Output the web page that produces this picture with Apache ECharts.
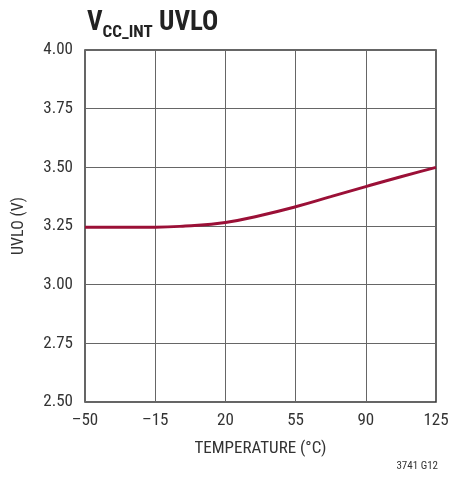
<!DOCTYPE html>
<html>
<head>
<meta charset="utf-8">
<script src="https://cdn.jsdelivr.net/npm/echarts@6/dist/echarts.min.js"></script>
<style>
  html, body { margin: 0; padding: 0; background: #fff; }
  #chart { width: 466px; height: 479px; }
</style>
</head>
<body>
<div id="chart"></div>
<script>
// temperature (°C) and UVLO threshold (V)
const temps = [-50, -32.5, -15, 0, 20, 37.5, 55, 72.5, 90, 107.5, 125];
const uvlo = [3.245, 3.245, 3.245, 3.25, 3.265, 3.295, 3.332, 3.375, 3.418, 3.46, 3.50];
const xTicks = [-50, -15, 20, 55, 90, 125];
const yTicks = [2.5, 2.75, 3.0, 3.25, 3.5, 3.75, 4.0];

const font = '"Liberation Sans Narrow", "Roboto Condensed", "Liberation Sans", sans-serif';

const myChart = echarts.init(document.getElementById('chart'));

const option = {
  animation: false,
  textStyle: { fontFamily: font },
  title: {
    text: '{v|V}{s|CC_INT}{v| UVLO}',
    left: 82,
    top: 5,
    textStyle: {
      rich: {
        v: { fontFamily: font, fontWeight: 'bold', fontSize: 27, color: '#222', verticalAlign: 'bottom' },
        s: { fontFamily: font, fontWeight: 'bold', fontSize: 17, color: '#222', verticalAlign: 'bottom', padding: [0, 0, -4, 0] }
      }
    }
  },
  graphic: [{
    type: 'text',
    right: 28,
    top: 461,
    style: { text: '3741 G12', font: '11px ' + font, fill: '#333' }
  }],
  grid: {
    left: 85, right: 30, top: 50, bottom: 77,
    show: true, borderColor: '#333', borderWidth: 1.5
  },
  xAxis: {
    type: 'value',
    min: -50,
    max: 125,
    interval: 35,
    name: 'TEMPERATURE (°C)',
    nameLocation: 'middle',
    nameGap: 38,
    nameTextStyle: { fontSize: 17, color: '#333', fontFamily: font },
    axisLine: { show: false },
    axisTick: { show: false },
    splitLine: { show: true, lineStyle: { color: '#666', width: 1 } },
    axisLabel: {
      fontSize: 17, color: '#333', margin: 10,
      formatter: v => xTicks.includes(v) ? String(v).replace('-', '\u2013') : ''
    }
  },
  yAxis: {
    type: 'value',
    min: 2.5,
    max: 4.0,
    interval: 0.25,
    name: 'UVLO (V)',
    nameLocation: 'middle',
    nameGap: 58,
    nameTextStyle: { fontSize: 16, color: '#333', fontFamily: font },
    axisLine: { show: false },
    axisTick: { show: false },
    splitLine: { show: true, lineStyle: { color: '#666', width: 1 } },
    axisLabel: {
      fontSize: 17, color: '#333', margin: 12,
      formatter: v => yTicks.some(t => Math.abs(t - v) < 1e-6) ? v.toFixed(2) : ''
    }
  },
  series: [{
    type: 'line',
    data: temps.map((t, i) => [t, uvlo[i]]),
    smooth: true,
    symbol: 'none',
    lineStyle: { color: '#9b1037', width: 3 }
  }]
};

myChart.setOption(option);
</script>
</body>
</html>
